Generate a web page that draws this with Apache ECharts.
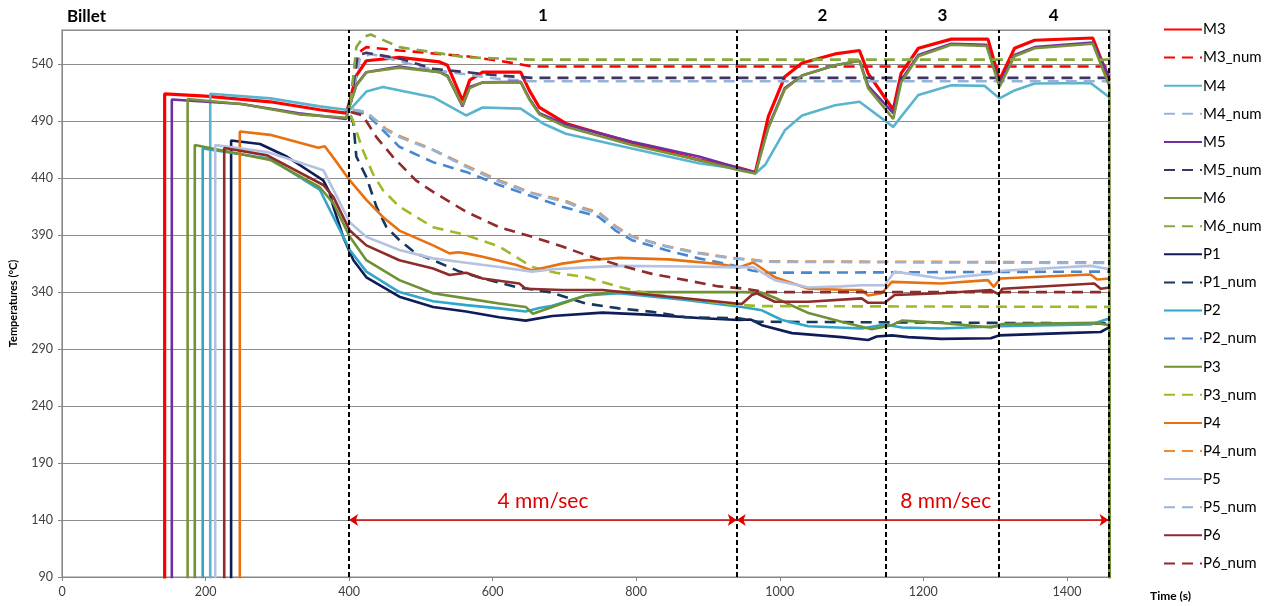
<!DOCTYPE html>
<html>
<head>
<meta charset="utf-8">
<script src="https://cdn.jsdelivr.net/npm/echarts@6/dist/echarts.min.js"></script>
<style>
html,body{margin:0;padding:0;background:#fff;}
#chart{width:1272px;height:606px;}
</style>
</head>
<body>
<div id="chart"></div>
<script>
// ---- Data (time s, temperature °C) ----
const seriesNames = ['M3','M3_num','M4','M4_num','M5','M5_num','M6','M6_num','P1','P1_num','P2','P2_num','P3','P3_num','P4','P4_num','P5','P5_num','P6','P6_num'];

const M3 = [[143,20],[143,514],[200,512],[290,507],[359,500],[396,497],[401,508],[410,530],[424,543],[470,546],[526,542],[537,539],[558,508],[568,526],[586,533],[639,533],[651,517],[665,502],[702,488],[794,471],[887,456],[943,449],[966,445],[984,494],[1007,529],[1031,541],[1077,549],[1111,552],[1123,532],[1158,500],[1169,532],[1193,554],[1239,562],[1290,562],[1306,526],[1327,554],[1355,561],[1436,563],[1459,526]];
const M3_num = [[402,505],[408,540],[415,551],[424,555],[470,552],[563,547],[609,543],[655,538],[702,538],[1460,538]];
const M4 = [[206.5,20],[206.5,514],[290,510],[359,503],[396,500],[401,500],[424,516],[447,520],[517,511],[563,495],[586,502],[639,501],[651,496],[670,488],[702,479],[794,466],[887,453],[943,448],[966,444],[980,452],[1007,482],[1031,495],[1077,504],[1111,507],[1158,485],[1169,494],[1193,513],[1239,521.5],[1285,521],[1306,510],[1327,517],[1355,523],[1433,523.5],[1459,511]];
const M4_num = [[402,505],[415,545],[430,549],[517,535],[609,527],[655,525],[1460,525]];
const M5 = [[153,20],[153,509],[250,505],[330,497],[396,492],[401,505],[410,522],[424,533],[470,538],[526,533],[537,530],[558,503],[568,520],[586,524],[639,524.5],[651,510],[665,497],[702,487],[794,472],[887,459],[943,449],[966,445],[984,485],[1007,519],[1031,530],[1077,539],[1111,543],[1123,521],[1158,497],[1169,526],[1193,548],[1239,558],[1288,557],[1306,523],[1327,548],[1355,555],[1436,559],[1459,529]];
const M5_num = [[402,505],[412,548],[424,550],[470,545],[517,536],[609,530],[655,528],[1460,528]];
const M6 = [[175,20],[175,509.5],[250,505],[330,496],[396,493],[401,504],[410,521],[424,533],[470,537],[526,533],[537,529],[558,504],[568,519],[586,524],[639,524],[651,509],[665,496],[702,485],[794,469],[887,456],[943,447],[966,444],[984,484],[1007,518],[1031,530],[1077,539],[1111,543],[1123,519],[1158,492],[1169,524],[1193,547],[1239,557],[1288,556],[1306,520],[1327,547],[1355,554],[1436,558],[1459,521],[1459.5,20]];
const M6_num = [[402,505],[410,555],[420,564],[430,566],[470,555],[563,546],[655,544],[1460,544]];
const P1 = [[235.6,20],[235.6,473],[276,470],[313,459],[364,438],[373,427],[378,415],[392,388],[406,368],[424,353],[470,336],[517,327],[563,323],[609,318],[646,315],[683,319],[753,322],[822,320],[892,317],[943,315.5],[959,316],[975,311],[1017,304],[1086,300.5],[1123,298],[1135,301],[1156,302],[1179,300.5],[1225,299],[1294,299.5],[1305,302],[1396,304],[1447,305],[1460,309.5]];
const P1_num = [[402,495],[406,488],[410,459],[424,441],[438,415],[452,397],[470,385.6],[493,374],[517,368],[554,358],[586,352],[632,344.6],[679,340],[730,330],[776,325.7],[822,322.7],[869,318],[943,317],[970,314],[1460,312.5]];
const P2 = [[196,20],[196,466],[290,457],[359,430],[378,406],[401,377],[424,358],[470,340],[517,332],[563,328.6],[609,325.7],[646,323],[665,326],[683,328],[730,337],[776,339],[869,333],[947,327],[975,324],[1003,315.5],[1040,310],[1114,308],[1146,311.6],[1170,309],[1225,308],[1305,310],[1433,311.6],[1460,317]];
const P2_num = [[405,498],[424,496.7],[470,467.5],[517,454],[563,445.5],[609,434],[655,424],[697,415],[748,406],[771,394],[794,385.6],[841,377],[887,369.6],[933,363.7],[961,359],[980,357],[1460,358]];
const P3 = [[185,20],[185,469],[290,456],[359,432],[378,418],[401,388.5],[424,368],[470,350.5],[517,339],[563,334.5],[609,330],[646,327],[656,321],[697,330],[730,337],[767,340],[947,340],[975,339.5],[993,335],[1040,321.6],[1086,314],[1128,307.5],[1156,311],[1170,315],[1225,313],[1294,309],[1310,312],[1440,313],[1459,311],[1459.5,20]];
const P3_num = [[402,495],[405,491],[419,464.6],[433,444],[447,429.5],[470,415],[517,397],[563,390],[609,380],[655,362],[688,357],[730,353],[776,344.6],[822,338],[869,334.5],[920,330],[970,327.7],[1460,327]];
const P4 = [[247.7,20],[247.7,481],[290,478],[357,466.6],[366,468],[378,458],[401,438],[424,421],[447,406],[470,394],[517,381],[540,374],[552,375],[563,374],[586,371],[632,364],[655,359],[697,365],[730,368],[776,370],[845,368.7],[915,364.6],[943,361.7],[963,366],[993,353],[1040,343],[1086,342],[1114,341.8],[1123,337],[1142,339],[1156,349],[1225,347.6],[1290,350.5],[1298,344.6],[1307,352],[1433,355.5],[1442,351],[1460,352]];
const P4_num = [[405,500],[424,498],[452,483],[470,477],[517,465],[563,451],[609,438],[655,427],[702,420],[725,414],[748,410],[771,398],[794,389],[841,380.5],[887,374.5],[933,370],[961,368.5],[980,367],[1460,366]];
const P5 = [[213.5,20],[213.5,469],[286,463],[364,447],[378,430],[401,401],[424,388.5],[470,377],[517,369.6],[563,365.7],[609,362],[655,358],[683,360],[730,361.7],[776,363],[869,362.5],[943,361.7],[963,362],[993,350.5],[1040,344],[1086,345],[1114,346],[1146,346],[1160,358],[1225,352],[1294,356],[1310,358.7],[1433,363],[1460,360]];
const P5_num = [[405,500],[424,498],[452,482],[470,476],[517,464.6],[563,450],[609,437],[655,426.5],[702,419],[725,413],[748,409],[771,397],[794,388.5],[841,380],[887,374],[933,369.6],[961,368],[980,366.6],[1460,365.5]];
const P6 = [[226,20],[226,466.5],[286,460],[364,434],[378,423.6],[401,394],[424,381],[470,368],[517,360.7],[540,355],[563,357],[586,352],[637,347.6],[646,343],[697,341.8],[753,341.8],[822,337.5],[892,333],[947,329.5],[961,337.5],[968,339],[993,331.5],[1040,331.5],[1114,334.5],[1123,330.6],[1146,330.6],[1160,337.5],[1225,339],[1294,341.8],[1305,338],[1310,343],[1438,347.6],[1447,343],[1460,344]];
const P6_num = [[402,498],[419,495],[438,476],[461,458.7],[493,438],[517,428],[563,410.5],[609,397],[655,388.5],[697,380],[730,372.5],[776,363.7],[822,356],[869,350.5],[915,345],[952,343],[980,340],[1460,340]];

// Phase annotations
const phaseBounds = [400, 940, 1148, 1305, 1458];
const phaseLabels = ['1', '2', '3', '4'];
const speedFrom = [400, 940];
const speedTo = [940, 1458];
const speedLabels = ['4 mm/sec', '8 mm/sec'];
const speedArrowTemp = 140;

// Axis ticks
const yMin = 90, yMax = 570, yStep = 50;
const xMin = 0, xMax = 1460, xStep = 200;

// ---- Styles ----
const seriesData = {M3,M3_num,M4,M4_num,M5,M5_num,M6,M6_num,P1,P1_num,P2,P2_num,P3,P3_num,P4,P4_num,P5,P5_num,P6,P6_num};
const colors = {
  M3:'#FF0000', M3_num:'#FF0000',
  M4:'#5AB4CE', M4_num:'#95B3D7',
  M5:'#7030A0', M5_num:'#3F3463',
  M6:'#77933C', M6_num:'#86A83F',
  P1:'#101C58', P1_num:'#17375E',
  P2:'#31A6C9', P2_num:'#4A86CF',
  P3:'#6E9134', P3_num:'#9BBB2B',
  P4:'#E8700E', P4_num:'#F08A30',
  P5:'#B4C1E0', P5_num:'#95B3D7',
  P6:'#8E2B2B', P6_num:'#8E2B2B'
};
const FONT = 'Lato, "Open Sans", sans-serif';

const series = seriesNames.map(n => {
  const dashed = n.endsWith('_num');
  return {
    name: n,
    type: 'line',
    data: seriesData[n],
    symbol: 'none',
    showSymbol: false,
    clip: true,
    z: 3,
    lineStyle: {
      color: colors[n],
      width: n === 'M3' ? 3.2 : 2.6,
      type: dashed ? [11, 7] : 'solid'
    },
    itemStyle: { color: colors[n] },
    emphasis: { disabled: true }
  };
});

// Vertical phase boundaries
series.push({
  name: 'phase-lines', type: 'line', data: [], silent: true, z: 5,
  markLine: {
    silent: true, symbol: 'none', animation: false,
    label: { show: false },
    lineStyle: { color: '#000', type: [5, 3], width: 2 },
    data: phaseBounds.map(x => ({ xAxis: x }))
  }
});
// Speed arrows
series.push({
  name: 'speed-arrows', type: 'line', data: [], silent: true, z: 6,
  markLine: {
    silent: true, symbol: ['arrow', 'arrow'], symbolSize: [9, 9], animation: false,
    lineStyle: { color: '#E00000', type: 'solid', width: 1.6 },
    label: {
      show: true, position: 'insideMiddleTop', distance: 8,
      color: '#E00000', fontSize: 21, fontFamily: FONT,
      formatter: p => p.name
    },
    data: speedFrom.map((f, i) => [
      { name: speedLabels[i], coord: [f, speedArrowTemp],
        label: i === 1 ? { padding: [0, 0, 0, 46] } : {} },
      { coord: [speedTo[i], speedArrowTemp] }
    ])
  }
});
// Phase number labels
series.push({
  name: 'phase-labels', type: 'line', data: [], silent: true,
  markArea: {
    silent: true, animation: false,
    itemStyle: { color: 'rgba(0,0,0,0)' },
    label: { show: true, position: 'top', distance: 6, color: '#000', fontWeight: 'bold', fontSize: 17, fontFamily: FONT },
    data: phaseLabels.map((l, i) => [
      { name: l, xAxis: phaseBounds[i], label: i === 1 ? { padding: [0, 0, 0, 22] } : {} },
      { xAxis: phaseBounds[i + 1] }
    ])
  }
});

const chart = echarts.init(document.getElementById('chart'), null, { renderer: 'canvas' });
chart.setOption({
  animation: false,
  backgroundColor: '#fff',
  title: {
    text: 'Billet', left: 62, top: 3,
    textStyle: { fontSize: 17, fontWeight: 'bold', color: '#000', fontFamily: FONT }
  },
  legend: {
    data: seriesNames,
    orient: 'vertical',
    left: 1158, top: 17,
    itemWidth: 38, itemHeight: 14, itemGap: 13.1,
    itemStyle: { opacity: 0, borderWidth: 0 },
    textStyle: { fontSize: 15, color: '#000', fontFamily: FONT, padding: [0, 0, 0, -4] },
    selectedMode: false
  },
  grid: {
    left: 57.5, right: 162, top: 30, bottom: 29,
    show: true, borderColor: '#8a8a80', borderWidth: 1.2,
    containLabel: false
  },
  xAxis: {
    type: 'value', min: xMin, max: xMax, interval: xStep,
    name: 'Time (s)', nameLocation: 'end', nameGap: 40,
    nameTextStyle: { fontSize: 12, fontWeight: 'bold', color: '#000', fontFamily: FONT, align: 'left', verticalAlign: 'top', padding: [13, 0, 0, 0] },
    axisLine: { show: true, lineStyle: { color: '#868686' } },
    axisTick: { show: true, length: 4, lineStyle: { color: '#868686' } },
    axisLabel: { showMaxLabel: false, fontSize: 12.5, color: '#404040', fontFamily: FONT, margin: 8, formatter: v => String(v) },
    splitLine: { show: false }
  },
  yAxis: {
    type: 'value', min: yMin, max: yMax, interval: yStep,
    name: 'Temperatures (°C)', nameLocation: 'middle', nameGap: 43, nameRotate: 90,
    nameTextStyle: { fontSize: 11, fontWeight: 'bold', color: '#000', fontFamily: FONT },
    axisLine: { show: true, lineStyle: { color: '#868686' } },
    axisTick: { show: true, length: 4, lineStyle: { color: '#868686' } },
    axisLabel: { showMaxLabel: false, fontSize: 12.5, color: '#404040', fontFamily: FONT, margin: 9, formatter: v => String(v) },
    splitLine: { show: true, lineStyle: { color: '#8c8c8c', width: 1.2 } }
  },
  series: series
});
</script>
</body>
</html>
